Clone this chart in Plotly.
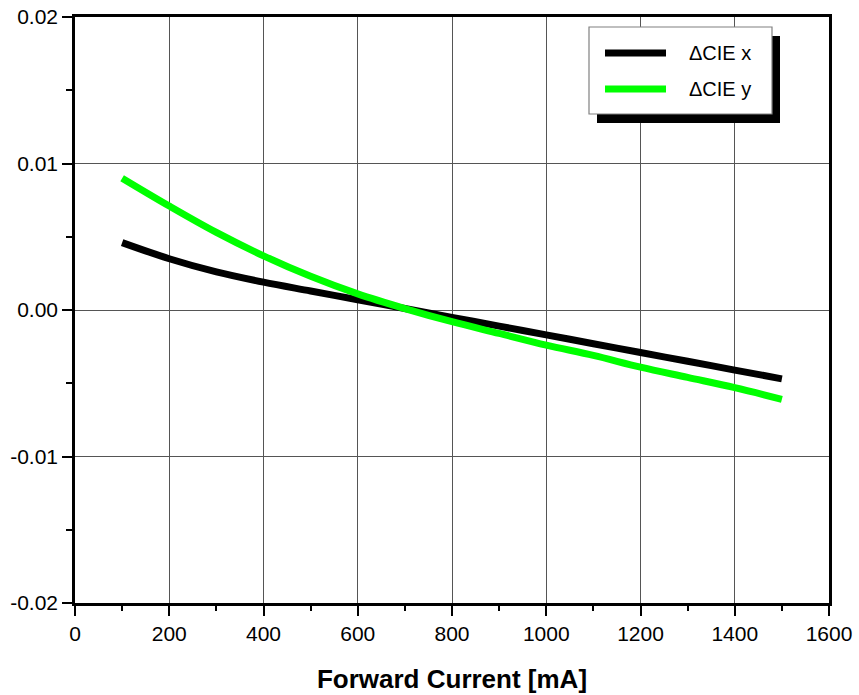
import plotly.graph_objects as go

current_ma = [100, 200, 300, 400, 500, 600, 700, 800, 900, 1000, 1100, 1200, 1300, 1400, 1500]
delta_cie_x = [0.0046, 0.0035, 0.0026, 0.0019, 0.0013, 0.0007, 0.0001, -0.0005, -0.0011,
               -0.0017, -0.0023, -0.0029, -0.0035, -0.0041, -0.0047]
delta_cie_y = [0.0090, 0.0071, 0.0053, 0.0037, 0.0023, 0.0011, 0.0001, -0.0008, -0.0016,
               -0.0024, -0.0031, -0.0039, -0.0046, -0.0053, -0.0061]

series_names = ["ΔCIE x", "ΔCIE y"]
series_colors = ["#000000", "#00FF00"]

y_tickvals = [-0.02, -0.01, 0.0, 0.01, 0.02]
y_ticktext = ["-0.02", "-0.01", "0.00", "0.01", "0.02"]
x_tickvals = [0, 200, 400, 600, 800, 1000, 1200, 1400, 1600]
x_ticktext = ["0", "200", "400", "600", "800", "1000", "1200", "1400", "1600"]

FONT = "Liberation Sans, Arial, sans-serif"

fig = go.Figure()
for name, ys, col in zip(series_names, [delta_cie_x, delta_cie_y], series_colors):
    fig.add_trace(go.Scatter(x=current_ma, y=ys, mode="lines", name=name,
                             line=dict(color=col, width=7, shape="spline", smoothing=1.0),
                             showlegend=False))

axis_common = dict(
    showline=True, linecolor="black", linewidth=2.5, mirror=True,
    ticks="outside", ticklen=10, tickwidth=2, tickcolor="black",
    showgrid=True, gridcolor="#555555", gridwidth=1, zeroline=False,
    automargin=False,
    tickfont=dict(family=FONT, size=21, color="black"),
)

fig.update_xaxes(range=[0, 1600], tickvals=x_tickvals, ticktext=x_ticktext,
                 minor=dict(dtick=100, tick0=0, ticks="outside", ticklen=5,
                            tickwidth=2, tickcolor="black", showgrid=False),
                 title=dict(text="<b>Forward Current [mA]</b>", standoff=26,
                            font=dict(family=FONT, size=26, color="black")),
                 **axis_common)
fig.update_yaxes(range=[-0.02, 0.02], tickvals=y_tickvals, ticktext=y_ticktext,
                 minor=dict(dtick=0.005, tick0=0, ticks="outside", ticklen=6,
                            tickwidth=2, tickcolor="black", showgrid=False),
                 **axis_common)

# Legend drawn manually (box with drop shadow)
L, R, T, B = 75, 829, 17, 603
def px(xp):
    return (xp - L) / (R - L)
def py(yp):
    return (B - yp) / (B - T)

shapes = [
    dict(type="rect", xref="paper", yref="paper", x0=px(597), x1=px(780), y0=py(123), y1=py(36),
         fillcolor="black", line=dict(width=0), layer="above"),
    dict(type="rect", xref="paper", yref="paper", x0=px(589), x1=px(772), y0=py(114), y1=py(27),
         fillcolor="white", line=dict(color="#808080", width=1.2), layer="above"),
]
annotations = []
for i, (name, col) in enumerate(zip(series_names, series_colors)):
    yc = py(53 + 36 * i)
    shapes.append(dict(type="line", xref="paper", yref="paper", x0=px(605), x1=px(666),
                       y0=yc, y1=yc, line=dict(color=col, width=7), layer="above"))
    annotations.append(dict(xref="paper", yref="paper", x=px(687), y=yc, text=name,
                            showarrow=False, xanchor="left", yanchor="middle",
                            font=dict(family=FONT, size=20, color="black")))

fig.update_layout(
    width=859, height=695,
    margin=dict(l=L, r=859 - R, t=T, b=695 - B, autoexpand=False),
    paper_bgcolor="white", plot_bgcolor="white",
    shapes=shapes, annotations=annotations,
    showlegend=False,
)

fig.write_html("out.html", config={"displayModeBar": False},
               post_script="document.body.style.margin='0';document.body.style.overflow='hidden';")
